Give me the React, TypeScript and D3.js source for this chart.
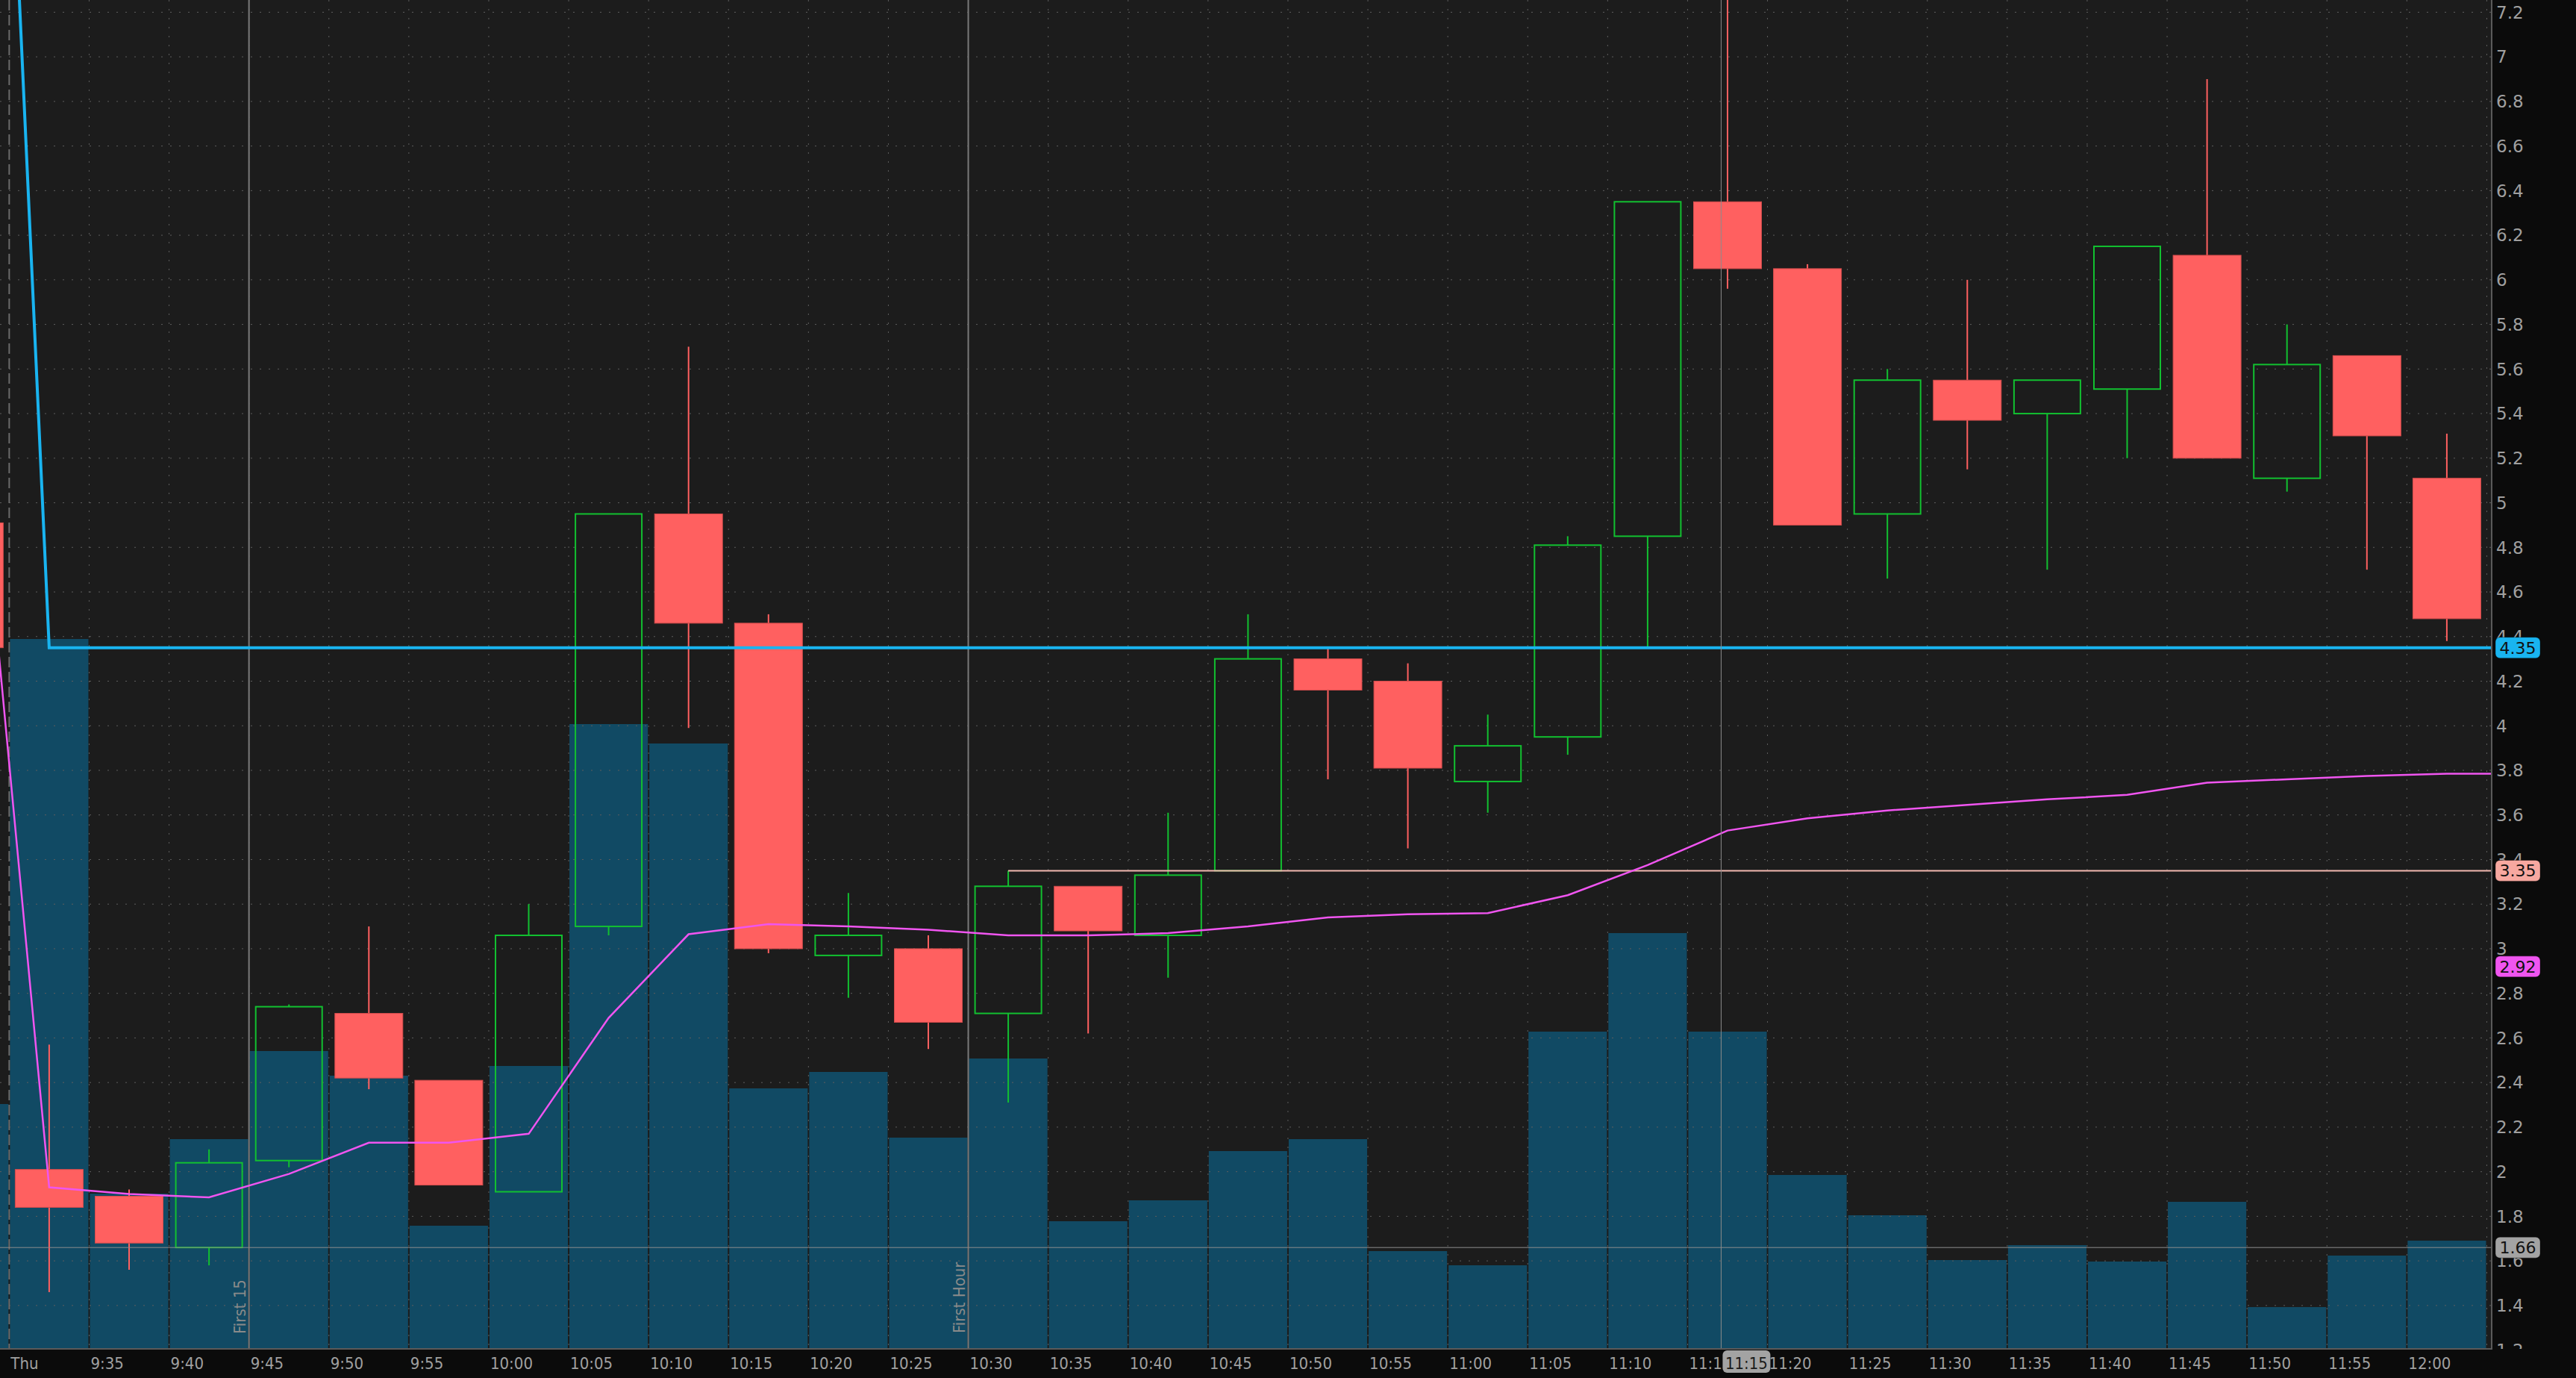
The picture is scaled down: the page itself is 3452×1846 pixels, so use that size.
import React from "react";
import * as d3 from "d3";

// ---- data (5-minute bars, Thursday session) ----
const times = ["9:30","9:35","9:40","9:45","9:50","9:55","10:00","10:05","10:10","10:15","10:20","10:25","10:30","10:35","10:40","10:45","10:50","10:55","11:00","11:05","11:10","11:15","11:20","11:25","11:30","11:35","11:40","11:45","11:50","11:55","12:00"];
const axisLabels = ["Thu","9:35","9:40","9:45","9:50","9:55","10:00","10:05","10:10","10:15","10:20","10:25","10:30","10:35","10:40","10:45","10:50","10:55","11:00","11:05","11:10","11:15","11:20","11:25","11:30","11:35","11:40","11:45","11:50","11:55","12:00"];
const opens  = [2.01,1.89,1.66,2.05,2.71,2.41,1.91,3.10,4.95,4.46,2.97,3.00,2.71,3.28,3.06,3.35,4.30,4.20,3.75,3.95,4.85,6.35,6.05,4.95,5.55,5.40,5.51,6.11,5.11,5.66,5.11];
const highs  = [2.57,1.92,2.10,2.75,3.10,2.41,3.20,4.95,5.70,4.50,3.25,3.06,3.35,3.28,3.61,4.50,4.35,4.28,4.05,4.85,6.35,7.40,6.07,5.60,6.00,5.55,6.15,6.90,5.80,5.66,5.31];
const lows   = [1.46,1.56,1.58,2.02,2.37,1.94,1.91,3.06,3.99,2.98,2.78,2.55,2.31,2.62,2.87,3.35,3.76,3.45,3.61,3.87,4.35,5.96,4.90,4.66,5.15,4.70,5.20,5.20,5.05,4.70,4.38];
const closes = [1.84,1.68,2.04,2.74,2.42,1.94,3.06,4.95,4.46,3.00,3.06,2.67,3.28,3.08,3.33,4.30,4.16,3.81,3.91,4.81,6.35,6.05,4.90,5.55,5.37,5.55,6.15,5.20,5.62,5.30,4.48];
const volumes = [950,207,280,398,365,164,378,836,810,348,370,282,388,170,198,264,280,130,111,424,556,424,232,178,118,138,116,196,55,124,144];
const vwap = [1.93,1.90,1.885,1.99,2.13,2.13,2.17,2.69,3.065,3.11,3.10,3.085,3.06,3.06,3.07,3.10,3.14,3.155,3.16,3.24,3.375,3.53,3.585,3.62,3.645,3.67,3.69,3.745,3.76,3.775,3.785];
const levelLine = [4.35,4.35,4.35,4.35,4.35,4.35,4.35,4.35,4.35,4.35,4.35,4.35,4.35,4.35,4.35,4.35,4.35,4.35,4.35,4.35,4.35,4.35,4.35,4.35,4.35,4.35,4.35,4.35,4.35,4.35,4.35];

// previous-day last bar (mostly off screen)
const prevOpen = 4.91, prevClose = 4.35, prevVolume = 327, prevVwap = 5.73, prevLevel = 12.15;

// horizontal level from the 10:30 high
const highLevel = 3.35;
const highLevelStart = 12;

const priceTicks = [7.2,7,6.8,6.6,6.4,6.2,6,5.8,5.6,5.4,5.2,5,4.8,4.6,4.4,4.2,4,3.8,3.6,3.4,3.2,3,2.8,2.6,2.4,2.2,2,1.8,1.6,1.4,1.2];
const badgeValues = [4.35, 3.35, 2.92, 1.66];
const badgeLabels = ["4.35", "3.35", "2.92", "1.66"];
const badgeColors = ["#19b4f0", "#f7a8a0", "#f055f0", "#a3a3a3"];
const cursorPos = 21.42;
const cursorLabel = "11:15";
const cursorPrice = 1.66;
const first15Slot = 3;
const firstHourSlot = 12;

const FONT = "'DejaVu Sans Condensed', 'DejaVu Sans', sans-serif";
const YFONT = "'DejaVu Sans', Verdana, sans-serif";

export default function App() {
  const W = 3452, H = 1846;
  const plotR = 3338, plotB = 1806;
  const y = d3.scaleLinear().domain([1.2, 7.2]).range([1808.6, 16.4]);
  const x = d3.scaleLinear().domain([0, 31]).range([12.35, 12.35 + 31 * 107.1]);
  const vol = d3.scaleLinear().domain([0, 1000]).range([plotB, plotB - 1000]);
  const cx = (i: number) => x(i + 0.5);
  const bodyW = 91;

  const red = "#ff6060";
  const redStroke = "#d44c4c";
  const green = "#12c030";
  const volColor = "#114a64";

  const line = d3.line<[number, number]>().x(d => d[0]).y(d => d[1]);

  const cyanPts: [number, number][] = [[cx(-1), y(prevLevel)], ...levelLine.map((v, i) => [cx(i), y(v)] as [number, number]), [plotR + 5, y(levelLine[levelLine.length - 1])]];
  const vwapPts: [number, number][] = [[cx(-1), y(prevVwap)], ...vwap.map((v, i) => [cx(i), y(v)] as [number, number]), [plotR + 5, y(vwap[vwap.length - 1])]];

  const vBars = [{ i: -1, v: prevVolume }, ...volumes.map((v, i) => ({ i, v }))];

  return (
    <svg width={W} height={H} style={{ position: "fixed", left: 0, top: 0, background: "#0b0b0b" }}>
      <defs>
        <clipPath id="plot"><rect x={0} y={0} width={plotR} height={plotB} /></clipPath>
        <clipPath id="yl"><rect x={plotR} y={0} width={W - plotR} height={plotB + 1} /></clipPath>
      </defs>
      <rect x={0} y={0} width={W} height={H} fill="#0b0b0b" />
      <g clipPath="url(#plot)">
        <rect x={0} y={0} width={plotR} height={plotB} fill="#1c1c1c" />
        {vBars.map(b => (
          <rect key={"v" + b.i} x={x(b.i) + 1} y={vol(b.v)} width={x(b.i + 1) - x(b.i) - 2} height={plotB - vol(b.v)} fill={volColor} />
        ))}
        {priceTicks.map(t => (
          <line key={"h" + t} x1={0} x2={plotR} y1={y(t)} y2={y(t)} stroke="#5e5e5e" strokeWidth={1} strokeDasharray="2,10" />
        ))}
        {d3.range(1, 32).map(i => (
          <line key={"vg" + i} x1={x(i)} x2={x(i)} y1={0} y2={plotB} stroke="#5e5e5e" strokeWidth={1} strokeDasharray="2,10" />
        ))}
        <line x1={x(0)} x2={x(0)} y1={0} y2={plotB} stroke="#6a6a6a" strokeWidth={2} strokeDasharray="14,6" />
        <line x1={x(first15Slot)} x2={x(first15Slot)} y1={0} y2={plotB} stroke="#7a7a7a" strokeWidth={2} />
        <line x1={x(firstHourSlot)} x2={x(firstHourSlot)} y1={0} y2={plotB} stroke="#7a7a7a" strokeWidth={2} />
        <text transform={`translate(${x(first15Slot) - 5},1787) rotate(-90)`} fill="#8a8a8a" fontFamily={FONT} fontSize={22}>First 15</text>
        <text transform={`translate(${x(firstHourSlot) - 5},1786) rotate(-90)`} fill="#8a8a8a" fontFamily={FONT} fontSize={22}>First Hour</text>
        <rect x={cx(-1) - bodyW / 2} y={y(prevOpen)} width={bodyW} height={y(prevClose) - y(prevOpen)} fill={red} stroke={redStroke} strokeWidth={1} />
        {times.map((t, i) => {
          const o = opens[i], c = closes[i], h = highs[i], l = lows[i];
          const up = c >= o;
          const top = y(Math.max(o, c)), bot = y(Math.min(o, c));
          const col = up ? green : red;
          const xc = cx(i);
          return (
            <g key={t}>
              <line x1={xc} x2={xc} y1={y(h)} y2={top} stroke={col} strokeWidth={2} />
              <line x1={xc} x2={xc} y1={bot} y2={y(l)} stroke={col} strokeWidth={2} />
              {up ? (
                <rect x={xc - bodyW / 2 + 1} y={top} width={bodyW - 2} height={Math.max(bot - top, 1)} fill="none" stroke={green} strokeWidth={2} />
              ) : (
                <rect x={xc - bodyW / 2} y={top} width={bodyW} height={Math.max(bot - top, 1)} fill={red} stroke={redStroke} strokeWidth={1} />
              )}
            </g>
          );
        })}
        <line x1={cx(highLevelStart)} x2={plotR} y1={y(highLevel)} y2={y(highLevel)} stroke="#f2b8b0" strokeWidth={2} />
        <path d={line(cyanPts) || ""} fill="none" stroke="#19b4f0" strokeWidth={4} />
        <path d={line(vwapPts) || ""} fill="none" stroke="#f055f0" strokeWidth={2.5} />
        <line x1={x(cursorPos)} x2={x(cursorPos)} y1={0} y2={plotB} stroke="#8c8c8c" strokeWidth={1} />
        <line x1={0} x2={plotR} y1={y(cursorPrice)} y2={y(cursorPrice)} stroke="#8c8c8c" strokeWidth={1} />
      </g>
      <line x1={plotR + 1} x2={plotR + 1} y1={0} y2={plotB + 2} stroke="#5a5a5a" strokeWidth={2} />
      <line x1={0} x2={plotR + 2} y1={plotB + 1} y2={plotB + 1} stroke="#5a5a5a" strokeWidth={2} />
      <g clipPath="url(#yl)">
        {priceTicks.map(t => (
          <g key={"yt" + t}>
            <line x1={plotR - 8} x2={plotR} y1={y(t)} y2={y(t)} stroke="#777" strokeWidth={1} />
            <text x={3345} y={y(t)} dy="0.36em" fill="#a0a0a0" fontFamily={YFONT} fontSize={23}>{String(t)}</text>
          </g>
        ))}
      </g>
      {badgeValues.map((v, k) => (
        <g key={"b" + k}>
          <rect x={3344} y={y(v) - 14} width={60} height={28} rx={6} fill={badgeColors[k]} stroke="rgba(0,0,0,0.35)" strokeWidth={1} />
          <text x={3374} y={y(v)} dy="0.36em" textAnchor="middle" fill="#111" fontFamily={YFONT} fontSize={22}>{badgeLabels[k]}</text>
        </g>
      ))}
      {axisLabels.map((lab, i) => (
        <text key={"xl" + i} x={x(i) + 2} y={1834} fill="#a0a0a0" fontFamily={FONT} fontSize={22}>{lab}</text>
      ))}
      <rect x={x(cursorPos) + 2} y={1809} width={64} height={30} rx={6} fill="#a3a3a3" />
      <text x={x(cursorPos) + 34} y={1834} textAnchor="middle" fill="#1a1a1a" fontFamily={FONT} fontSize={22}>{cursorLabel}</text>
    </svg>
  );
}
